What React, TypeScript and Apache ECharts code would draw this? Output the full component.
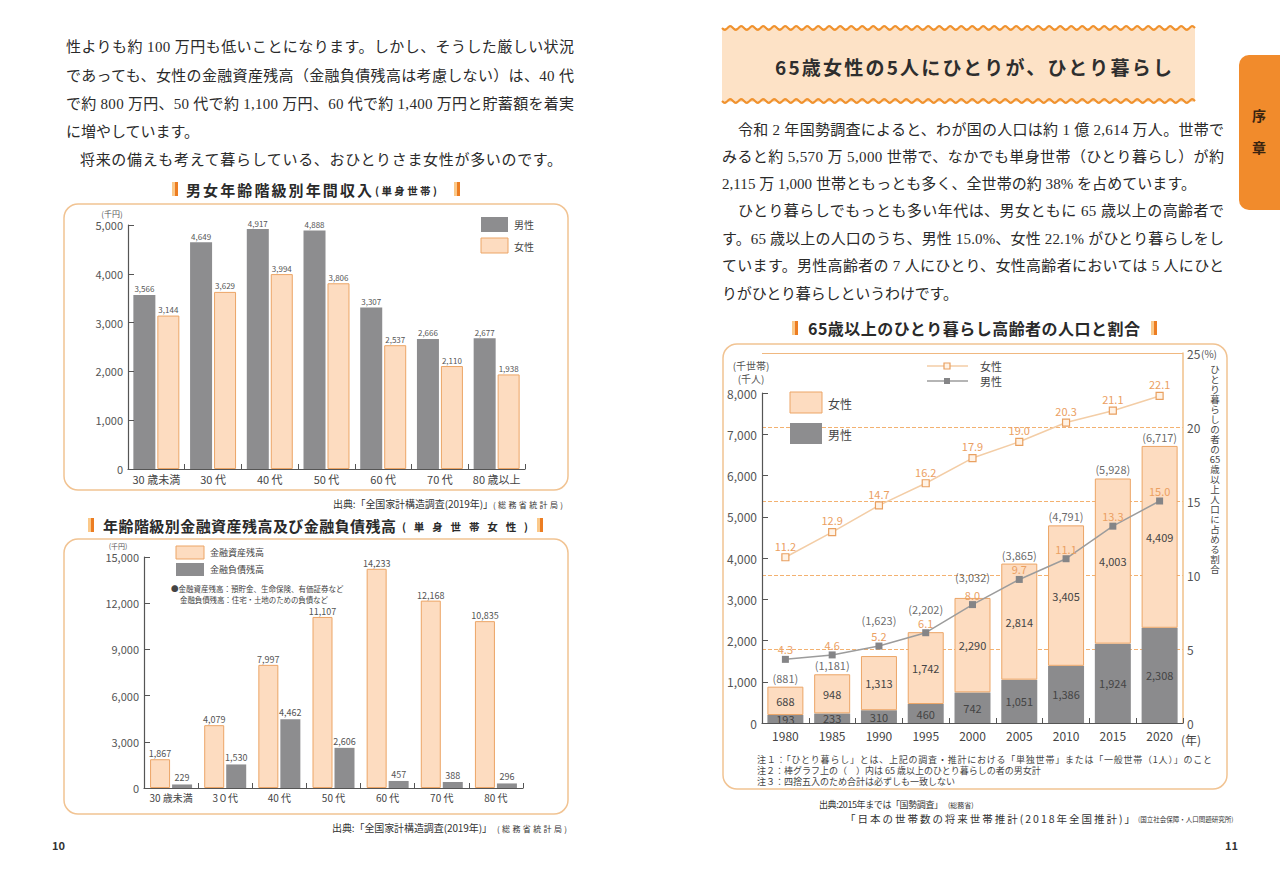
import React, { useEffect, useRef } from "react";
import * as echarts from "echarts";

// ---------- data ----------
const ageGroups1 = ["30 歳未満", "30 代", "40 代", "50 代", "60 代", "70 代", "80 歳以上"];
const incomeMale = [3566, 4649, 4917, 4888, 3307, 2666, 2677];
const incomeFemale = [3144, 3629, 3994, 3806, 2537, 2110, 1938];

const ageGroups2 = ["30 歳未満", "3０代", "40 代", "50 代", "60 代", "70 代", "80 代"];
const assetBalance = [1867, 4079, 7997, 11107, 14233, 12168, 10835];
const debtBalance = [229, 1530, 4462, 2606, 457, 388, 296];

const years = ["1980", "1985", "1990", "1995", "2000", "2005", "2010", "2015", "2020"];
const elderlyMale = [193, 233, 310, 460, 742, 1051, 1386, 1924, 2308];
const elderlyFemale = [688, 948, 1313, 1742, 2290, 2814, 3405, 4003, 4409];
const elderlyTotal = [881, 1181, 1623, 2202, 3032, 3865, 4791, 5928, 6717];
const rateFemale = [11.2, 12.9, 14.7, 16.2, 17.9, 19.0, 20.3, 21.1, 22.1];
const rateMale = [4.3, 4.6, 5.2, 6.1, 8.0, 9.7, 11.1, 13.3, 15.0];

const leftLines = [
  "性よりも約 100 万円も低いことになります。しかし、そうした厳しい状況",
  "であっても、女性の金融資産残高（金融負債残高は考慮しない）は、40 代",
  "で約 800 万円、50 代で約 1,100 万円、60 代で約 1,400 万円と貯蓄額を着実",
  "に増やしています。",
  "将来の備えも考えて暮らしている、おひとりさま女性が多いのです。",
];
const rightLines = [
  "令和 2 年国勢調査によると、わが国の人口は約 1 億 2,614 万人。世帯で",
  "みると約 5,570 万 5,000 世帯で、なかでも単身世帯（ひとり暮らし）が約",
  "2,115 万 1,000 世帯ともっとも多く、全世帯の約 38% を占めています。",
  "ひとり暮らしでもっとも多い年代は、男女ともに 65 歳以上の高齢者で",
  "す。65 歳以上の人口のうち、男性 15.0%、女性 22.1% がひとり暮らしをし",
  "ています。男性高齢者の 7 人にひとり、女性高齢者においては 5 人にひと",
  "りがひとり暮らしというわけです。",
];

// layout only: extra lift of the (total) labels where they would collide with line labels
const totalLabelLift = [0, 0, 27, 14, 12, 0, 0, 0, 0];

// ---------- styles ----------
const SANS = "'Noto Sans CJK JP', 'Noto Sans', sans-serif";
const SERIF = "'Liberation Serif', 'Noto Sans CJK JP', serif";
const GRAY = "#8d8d8f";
const PEACH = "#fddcc0";
const PEACH_BORDER = "#eca566";
const ORANGE_TXT = "#eba062";
const BOX = "#f1c392";
const AXIS = "#555";
const TXT = "#2a2a2a";

const fmt = (v: number) => v.toLocaleString("en-US");

export default function App() {
  const ref = useRef<HTMLDivElement>(null);

  useEffect(() => {
    const el = ref.current!;
    const chart = echarts.init(el, undefined, { renderer: "svg", width: 1280, height: 879 });

    const LEN: Record<string, number> = {};
    const T = (x: number, y: number, text: string, o: any = {}) => {
      if (o.len) LEN[text] = o.len;
      return {
        type: "text",
        x,
        y,
        silent: true,
        z: o.z ?? 10,
        style: {
          text,
          fill: o.color ?? TXT,
          fontSize: o.size ?? 12,
          fontFamily: o.family ?? SANS,
          fontWeight: o.weight ?? "normal",
          textAlign: o.align ?? "left",
          textVerticalAlign: o.valign ?? "middle",
          verticalAlign: o.valign ?? "middle",
          lineHeight: o.lh,
        },
      };
    };
    const R = (x: number, y: number, w: number, h: number, style: any, r = 0, z = 1) => ({
      type: "rect",
      silent: true,
      z,
      shape: { x, y, width: w, height: h, r },
      style,
    });
    const deco = (x: number, y: number) =>
      R(x, y, 6, 14, {
        fill: {
          type: "linear", x: 0, y: 0, x2: 1, y2: 0,
          colorStops: [
            { offset: 0, color: "#fbc98a" },
            { offset: 0.5, color: "#fbc98a" },
            { offset: 0.5, color: "#ec7d22" },
            { offset: 1, color: "#ec7d22" },
          ],
        },
      });
    const wave = (y: number) => {
      const pts: number[][] = [];
      for (let x = 722; x <= 1195; x += 1) pts.push([x, y + 1.8 * Math.sin(((x - 722) / 11) * Math.PI * 2)]);
      return { type: "polyline", silent: true, z: 3, shape: { points: pts }, style: { stroke: "#f0922e", lineWidth: 2.2, fill: null } };
    };

    const graphic: any[] = [
      // ---- left page text ----
      T(66, 47, leftLines[0], { size: 15, family: SERIF, len: 508 }),
      T(66, 76, leftLines[1], { size: 15, family: SERIF, len: 508 }),
      T(66, 104, leftLines[2], { size: 15, family: SERIF, len: 508 }),
      T(66, 132, leftLines[3], { size: 15, family: SERIF }),
      T(80, 160, leftLines[4], { size: 15, family: SERIF, len: 482 }),
      // chart 1 title
      deco(172, 182),
      T(186, 189, "男女年齢階級別年間収入", { size: 15, weight: "bold", len: 186 }),
      T(375, 190, "(単身世帯)", { size: 10.5, weight: "bold", len: 62 }),
      deco(454, 182),
      R(64, 204, 504, 286, { fill: "none", stroke: BOX, lineWidth: 1.5 }, 14, 0),
      T(112, 213, "(千円)", { size: 8, align: "center", color: "#555" }),
      R(481, 217, 27, 15, { fill: GRAY }),
      T(514, 224, "男性", { size: 10, color: "#444" }),
      R(481, 238, 27, 15, { fill: PEACH, stroke: PEACH_BORDER, lineWidth: 1 }),
      T(514, 246, "女性", { size: 10, color: "#444" }),
      T(333, 503, "出典:「全国家計構造調査(2019年)」", { size: 10, color: "#333", len: 157 }),
      T(493, 504, "(総務省統計局)", { size: 8, color: "#333", len: 70 }),
      // chart 2 title
      deco(88, 518),
      T(103, 525, "年齢階級別金融資産残高及び金融負債残高", { size: 15, weight: "bold", len: 293 }),
      T(402, 526, "(単身世帯女性)", { size: 10.5, weight: "bold", len: 126 }),
      deco(537, 518),
      R(64, 539, 504, 275, { fill: "none", stroke: BOX, lineWidth: 1.5 }, 14, 0),
      T(118, 546, "(千円)", { size: 7, align: "center", color: "#555" }),
      R(176, 546, 28, 13, { fill: PEACH, stroke: PEACH_BORDER, lineWidth: 1 }),
      T(210, 552, "金融資産残高", { size: 9, color: "#444" }),
      R(176, 563, 28, 13, { fill: GRAY }),
      T(210, 569, "金融負債残高", { size: 9, color: "#444" }),
      T(171, 588, "●金融資産残高：預貯金、生命保険、有価証券など", { size: 7.5, color: "#444" }),
      T(180, 599, "金融負債残高：住宅・土地のための負債など", { size: 7.5, color: "#444", len: 148 }),
      T(332, 827, "出典:「全国家計構造調査(2019年)」", { size: 10, color: "#333", len: 160 }),
      T(497, 828, "(総務省統計局)", { size: 8, color: "#333", len: 70 }),
      T(52, 845, "10", { size: 11, weight: "bold", color: "#333" }),

      // ---- right page ----
      R(722, 28, 473, 74, { fill: "#fde2c6" }, 0, 1),
      wave(28),
      wave(101),
      T(775, 66, "65歳女性の5人にひとりが、ひとり暮らし", { size: 19, weight: "bold", color: "#2e2e2e", len: 397 }),
      R(1239, 55, 50, 155, { fill: "#f18b2c" }, 10, 1),
      T(1259, 115, "序", { size: 14, weight: "bold", color: "#3a2410", align: "center" }),
      T(1259, 147, "章", { size: 14, weight: "bold", color: "#3a2410", align: "center" }),
      T(738, 130, rightLines[0], { size: 15, family: SERIF, len: 486 }),
      T(722, 157, rightLines[1], { size: 15, family: SERIF, len: 502 }),
      T(722, 184, rightLines[2], { size: 15, family: SERIF, len: 474 }),
      T(738, 211, rightLines[3], { size: 15, family: SERIF, len: 486 }),
      T(722, 239, rightLines[4], { size: 15, family: SERIF, len: 502 }),
      T(722, 266, rightLines[5], { size: 15, family: SERIF, len: 502 }),
      T(722, 294, rightLines[6], { size: 15, family: SERIF, len: 236 }),
      // chart 3 title
      deco(792, 321),
      T(808, 328, "65歳以上のひとり暮らし高齢者の人口と割合", { size: 16, weight: "bold", len: 332 }),
      deco(1151, 321),
      R(723, 344, 504, 445, { fill: "none", stroke: BOX, lineWidth: 1.5 }, 14, 0),
      T(751, 365, "(千世帯)", { size: 10, align: "center", color: "#555" }),
      T(751, 378, "(千人)", { size: 10, align: "center", color: "#555" }),
      // line legend
      { type: "line", silent: true, z: 5, shape: { x1: 927, y1: 366, x2: 968, y2: 366 }, style: { stroke: "#f3cda6", lineWidth: 1.5 } },
      R(944, 363, 6, 6, { fill: "#fff3e6", stroke: "#e9a060", lineWidth: 1.2 }, 0, 6),
      T(980, 366, "女性", { size: 11, color: "#444" }),
      { type: "line", silent: true, z: 5, shape: { x1: 927, y1: 381, x2: 968, y2: 381 }, style: { stroke: "#9c9c9c", lineWidth: 1.5 } },
      R(944, 378, 6, 6, { fill: "#858587" }, 0, 6),
      T(980, 381, "男性", { size: 11, color: "#444" }),
      // bar legend
      R(790, 392, 32, 21, { fill: PEACH, stroke: PEACH_BORDER, lineWidth: 1 }, 0, 6),
      T(828, 403, "女性", { size: 12, color: "#444" }),
      R(790, 423, 32, 21, { fill: GRAY }, 0, 6),
      T(828, 434, "男性", { size: 12, color: "#444" }),
      T(1201, 353, "(%)", { size: 10, color: "#555" }),
      T(1215, 364, "ひ\nと\nり\n暮\nら\nし\nの\n者\nの\n65\n歳\n以\n上\n人\n口\nに\n占\nめ\nる\n割\n合", {
        size: 9.5, align: "center", valign: "top", lh: 10, color: "#444",
      }),
      T(1181, 739, "(年)", { size: 12, color: "#444" }),
      T(757, 759, "注１：「ひとり暮らし」とは、上記の調査・推計における「単独世帯」または「一般世帯（1人）」のこと", { size: 9, color: "#444", len: 455 }),
      T(757, 770, "注２：棒グラフ上の（　）内は 65 歳以上のひとり暮らしの者の男女計", { size: 9, color: "#444" }),
      T(757, 781, "注３：四捨五入のため合計は必ずしも一致しない", { size: 9, color: "#444" }),
      T(819, 804, "出典:2015年までは「国勢調査」", { size: 9, color: "#333", len: 124 }),
      T(948, 805, "(総務省)", { size: 7, color: "#333" }),
      T(845, 818, "「日本の世帯数の将来世帯推計(2018年全国推計)」", { size: 10.5, color: "#333", len: 290 }),
      T(1138, 819, "(国立社会保障・人口問題研究所)", { size: 6.5, color: "#333" }),
      T(1225, 845, "11", { size: 11, weight: "bold", color: "#333" }),
    ];

    const catAxis = (grid: number, data: string[], o: any = {}) => ({
      type: "category",
      gridIndex: grid,
      data,
      boundaryGap: true,
      axisLine: { show: true, lineStyle: { color: AXIS, width: 1.2 } },
      axisTick: { show: true, inside: true, length: 5, lineStyle: { color: AXIS } },
      axisLabel: { interval: 0, fontSize: o.fs ?? 11, color: "#444", margin: o.margin ?? 4, fontFamily: SANS },
      splitLine: { show: false },
      z: 4,
    });
    const valAxis = (grid: number, max: number, interval: number, o: any = {}) => ({
      type: "value",
      gridIndex: grid,
      min: 0,
      max,
      interval,
      axisLine: { show: true, lineStyle: { color: AXIS, width: 1.2 } },
      axisTick: { show: true, inside: true, length: 6, lineStyle: { color: AXIS } },
      axisLabel: { fontSize: o.fs ?? 11, color: "#555", margin: o.margin ?? 5, formatter: (v: number) => fmt(v), fontFamily: SANS },
      splitLine: { show: false },
      z: 4,
    });

    const option: any = {
      animation: false,
      backgroundColor: "#fff",
      textStyle: { fontFamily: SANS },
      graphic,
      grid: [
        { left: 128, top: 225, width: 397, height: 244, outerBoundsMode: "none" },
        { left: 144, top: 557, width: 379, height: 231, outerBoundsMode: "none" },
        { left: 762, top: 393, width: 421, height: 330, outerBoundsMode: "none" },
        { left: 762, top: 353, width: 421, height: 370, outerBoundsMode: "none" },
      ],
      xAxis: [
        catAxis(0, ageGroups1, { fs: 11, margin: 4 }),
        catAxis(1, ageGroups2, { fs: 10, margin: 4 }),
        catAxis(2, years, { fs: 12, margin: 6 }),
        { type: "category", gridIndex: 3, data: years, boundaryGap: true, show: false },
      ],
      yAxis: [
        valAxis(0, 5000, 1000, { fs: 11 }),
        valAxis(1, 15000, 3000, { fs: 11 }),
        valAxis(2, 8000, 1000, { fs: 12 }),
        {
          type: "value",
          gridIndex: 3,
          position: "right",
          min: 0,
          max: 25,
          interval: 5,
          axisLine: { show: true, lineStyle: { color: "#f1c08a", width: 1.5 } },
          axisTick: { show: false },
          axisLabel: { fontSize: 12, color: "#555", margin: 4, fontFamily: SANS },
          splitLine: { show: true, lineStyle: { color: "#f3b170", type: "dashed", width: 1 } },
        },
      ],
      series: [
        {
          type: "bar", name: "男性", xAxisIndex: 0, yAxisIndex: 0, data: incomeMale,
          barWidth: 22, barGap: "9%",
          itemStyle: { color: GRAY },
          label: { show: true, position: "top", distance: 2, fontSize: 8, color: "#555", formatter: (p: any) => fmt(p.value) },
        },
        {
          type: "bar", name: "女性", xAxisIndex: 0, yAxisIndex: 0, data: incomeFemale,
          barWidth: 22, barGap: "9%",
          itemStyle: { color: PEACH, borderColor: PEACH_BORDER, borderWidth: 1 },
          label: { show: true, position: "top", distance: 2, fontSize: 8, color: "#555", formatter: (p: any) => fmt(p.value) },
        },
        {
          type: "bar", name: "金融資産残高", xAxisIndex: 1, yAxisIndex: 1, data: assetBalance,
          barWidth: 20, barGap: "10%",
          itemStyle: { color: PEACH, borderColor: PEACH_BORDER, borderWidth: 1 },
          label: { show: true, position: "top", distance: 1, fontSize: 9, color: "#555", formatter: (p: any) => fmt(p.value) },
        },
        {
          type: "bar", name: "金融負債残高", xAxisIndex: 1, yAxisIndex: 1, data: debtBalance,
          barWidth: 20, barGap: "10%",
          itemStyle: { color: GRAY },
          label: { show: true, position: "top", distance: 2, fontSize: 9, color: "#555", formatter: (p: any) => fmt(p.value) },
        },
        {
          type: "bar", name: "男性人口", stack: "pop", xAxisIndex: 2, yAxisIndex: 2, data: elderlyMale,
          barWidth: 36,
          itemStyle: { color: "#8b8b8d" },
          label: { show: true, position: "inside", fontSize: 11, color: "#444", formatter: (p: any) => fmt(p.value) },
        },
        {
          type: "bar", name: "女性人口", stack: "pop", xAxisIndex: 2, yAxisIndex: 2, data: elderlyFemale,
          barWidth: 36,
          itemStyle: { color: PEACH, borderColor: PEACH_BORDER, borderWidth: 1 },
          label: { show: true, position: "inside", fontSize: 11, color: "#444", formatter: (p: any) => fmt(p.value) },
        },
        {
          type: "scatter", name: "男女計", xAxisIndex: 2, yAxisIndex: 2,
          data: elderlyTotal.map((v, i) => ({ value: v, label: { distance: 3 + totalLabelLift[i] } })),
          symbolSize: 1, itemStyle: { color: "rgba(0,0,0,0)" },
          label: { show: true, position: "top", distance: 3, fontSize: 11, color: "#444", formatter: (p: any) => `(${fmt(p.value)})` },
        },
        {
          type: "line", name: "女性割合", xAxisIndex: 3, yAxisIndex: 3, data: rateFemale, z: 5,
          symbol: "rect", symbolSize: 7,
          lineStyle: { color: "#f3cda6", width: 1.5 },
          itemStyle: { color: "#fff3e6", borderColor: "#e9a060", borderWidth: 1.2 },
          label: { show: true, position: "top", distance: 2, fontSize: 11, color: ORANGE_TXT, formatter: (p: any) => p.value.toFixed(1) },
          markLine: {
            silent: true, symbol: "none", label: { show: false },
            lineStyle: { color: "#f0b880", type: "solid", width: 1 },
            data: [{ yAxis: 25 }],
          },
        },
        {
          type: "line", name: "男性割合", xAxisIndex: 3, yAxisIndex: 3, data: rateMale, z: 5,
          symbol: "rect", symbolSize: 7,
          lineStyle: { color: "#9c9c9c", width: 1.5 },
          itemStyle: { color: "#858587" },
          label: { show: true, position: "top", distance: 1, fontSize: 11, color: ORANGE_TXT, formatter: (p: any) => p.value.toFixed(1) },
        },
      ],
    };

    chart.setOption(option);

    const apply = () => {
      el.querySelectorAll("text").forEach((t) => {
        const s = t.textContent || "";
        const L = LEN[s];
        if (L) {
          t.setAttribute("textLength", String(L));
          t.setAttribute("lengthAdjust", "spacing");
        }
      });
    };
    apply();
    chart.on("finished", apply);
    const t1 = setTimeout(apply, 50);
    const t2 = setTimeout(apply, 300);
    return () => {
      clearTimeout(t1);
      clearTimeout(t2);
      chart.dispose();
    };
  }, []);

  return (
    <div
      ref={ref}
      style={{ position: "absolute", left: 0, top: 0, width: 1280, height: 879, background: "#fff" }}
    />
  );
}
